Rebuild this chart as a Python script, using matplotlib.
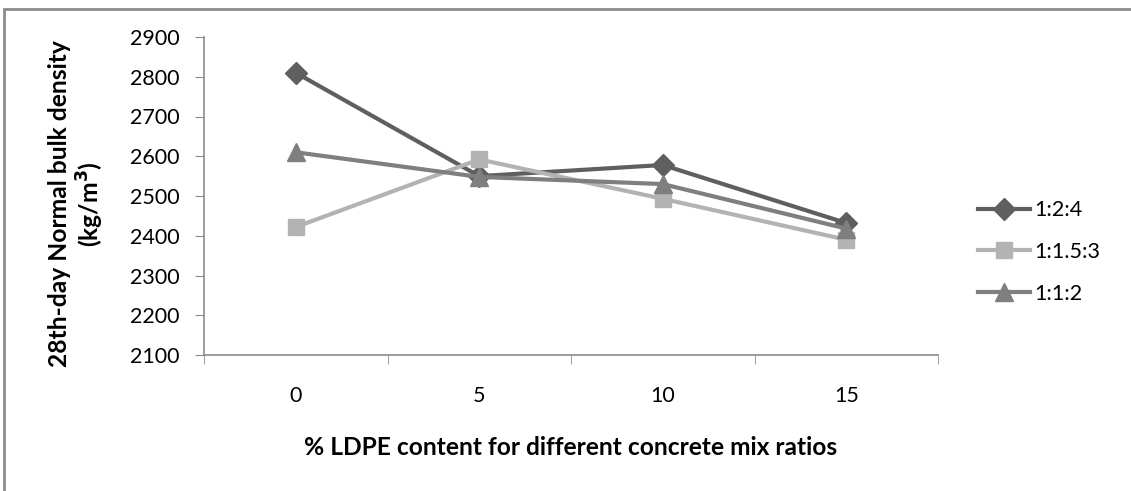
import matplotlib.pyplot as plt
from matplotlib.patches import Rectangle

ldpe = ['0', '5', '10', '15']
mix_124 = [2810, 2550, 2578, 2432]
mix_1153 = [2422, 2592, 2493, 2390]
mix_112 = [2610, 2548, 2530, 2418]

plt.rcParams['font.family'] = ['Lato', 'DejaVu Sans']

W, H = 1131, 491
fig = plt.figure(figsize=(W / 100, H / 100), dpi=100)
ax = fig.add_axes([204 / W, 1 - 355 / H, 734 / W, 318 / H])

# outer chart frame (cut off at right and bottom in the original)
fig.patches.append(Rectangle((4 / W, -0.1), 1.2, 1 - 9 / H + 0.1,
                             transform=fig.transFigure, fill=False,
                             edgecolor='#8c8c8c', linewidth=2))

x = range(len(ldpe))
ax.plot(x, mix_124, color='#5f5f5f', lw=3, marker='D', ms=11, label='1:2:4')
ax.plot(x, mix_1153, color='#b3b3b3', lw=3, marker='s', ms=12, label='1:1.5:3')
ax.plot(x, mix_112, color='#7f7f7f', lw=3, marker='^', ms=13, label='1:1:2')

ax.set_xlim(-0.5, 3.5)
ax.set_ylim(2100, 2900)
ax.set_yticks(range(2100, 3000, 100))
ax.set_xticks(list(x))
ax.set_xticklabels(ldpe)
ax.set_xticks([i - 0.5 for i in range(5)], minor=True)

for s in ['top', 'right']:
    ax.spines[s].set_visible(False)
for s in ['left', 'bottom']:
    ax.spines[s].set_color('#8c8c8c')
    ax.spines[s].set_linewidth(1.2)

xlab = ax.set_xlabel('% LDPE content for different concrete mix ratios',
                     fontsize=17, fontweight='bold')
ax.xaxis.set_label_coords(0.5, -0.255)
ylab = ax.set_ylabel('28th-day Normal bulk density\n(kg/m$^\\mathbf{3}$)',
                     fontsize=17, fontweight='bold', linespacing=1.15)
ax.yaxis.set_label_coords(-0.1335, 0.475)

# scale text so it spans the same pixels as in the original (Calibri there)
fig.canvas.draw()
r = fig.canvas.get_renderer()
xlab.set_fontsize(17 * 532 / xlab.get_window_extent(r).width)
ylab.set_fontsize(17 * 328 / ylab.get_window_extent(r).height)
probe = fig.text(0, 0, '2900', fontsize=17)
tsize = 17 * 50 / probe.get_window_extent(r).width
probe.remove()

ax.tick_params(axis='x', which='major', length=0, pad=22, labelsize=tsize)
ax.tick_params(axis='x', which='minor', length=6.5, color='#8c8c8c', direction='out')
ax.tick_params(axis='y', length=6.5, color='#8c8c8c', labelsize=tsize, pad=11)

ax.legend(loc='center left', bbox_to_anchor=(978 / W, 1 - 252 / H),
          bbox_transform=fig.transFigure, frameon=False, borderpad=0,
          borderaxespad=0, fontsize=tsize, handlelength=2.4, handletextpad=0.2,
          labelspacing=1.0)

fig.savefig('out.png', dpi=100)
